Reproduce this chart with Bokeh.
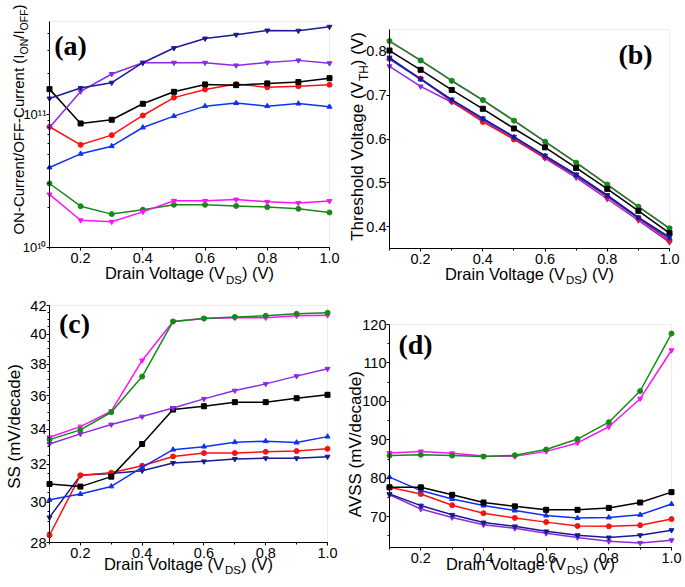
import math
from bokeh.plotting import figure
from bokeh.models import FixedTicker, PrintfTickFormatter, Label, Range1d, BoxAnnotation
from bokeh.layouts import column, row
from bokeh.embed import file_html
from bokeh.resources import INLINE

VDS = [0.1, 0.2, 0.3, 0.4, 0.5, 0.6, 0.7, 0.8, 0.9, 1.0]
X_TICKS = [0.2, 0.4, 0.6, 0.8, 1.0]

# (a) ON/OFF current ratio
A_NAVY = [1.31e11, 1.57e11, 1.72e11, 2.43e11, 3.13e11, 3.69e11, 3.94e11, 4.24e11, 4.22e11, 4.52e11]
A_VIOLET = [7.94e10, 1.48e11, 2.0e11, 2.43e11, 2.43e11, 2.43e11, 2.32e11, 2.44e11, 2.53e11, 2.41e11]
A_BLACK = [1.54e11, 8.51e10, 9.07e10, 1.196e11, 1.47e11, 1.67e11, 1.65e11, 1.70e11, 1.74e11, 1.86e11]
A_RED = [8.04e10, 5.89e10, 6.96e10, 9.77e10, 1.33e11, 1.53e11, 1.68e11, 1.59e11, 1.62e11, 1.66e11]
A_BLUE = [3.98e10, 5.04e10, 5.75e10, 7.94e10, 9.66e10, 1.148e11, 1.21e11, 1.148e11, 1.2e11, 1.135e11]
A_GREEN = [3.02e10, 2.04e10, 1.78e10, 1.92e10, 2.09e10, 2.09e10, 2.05e10, 2.01e10, 1.95e10, 1.83e10]
A_MAGENTA = [2.50e10, 1.60e10, 1.56e10, 1.85e10, 2.24e10, 2.24e10, 2.29e10, 2.20e10, 2.16e10, 2.23e10]
A_YLIM = (1e10, 4.95e11)
A_TICKS = [1e10, 1e11]
A_LABELS = ["10\u00b9\u2070", "10\u00b9\u00b9"]

# (b) threshold voltage
B_GREEN = [0.8235, 0.7795, 0.733, 0.689, 0.642, 0.594, 0.546, 0.496, 0.4455, 0.396]
B_MAGENTA = [0.8235, 0.7795, 0.733, 0.689, 0.642, 0.594, 0.546, 0.496, 0.4455, 0.396]
B_BLACK = [0.802, 0.758, 0.712, 0.669, 0.624, 0.581, 0.534, 0.486, 0.436, 0.385]
B_NAVY = [0.786, 0.737, 0.690, 0.647, 0.605, 0.562, 0.519, 0.472, 0.421, 0.376]
B_BLUE = [0.783, 0.736, 0.689, 0.646, 0.604, 0.561, 0.517, 0.470, 0.420, 0.373]
B_RED = [0.783, 0.738, 0.686, 0.639, 0.599, 0.558, 0.516, 0.468, 0.419, 0.368]
B_VIOLET = [0.766, 0.720, 0.684, 0.643, 0.600, 0.556, 0.512, 0.463, 0.414, 0.364]
B_YLIM = (0.35, 0.85)
B_TICKS = [0.4, 0.5, 0.6, 0.7, 0.8]

# (c) subthreshold swing
C_GREEN = [33.39, 33.95, 34.99, 37.19, 40.87, 41.08, 41.18, 41.27, 41.41, 41.48]
C_MAGENTA = [33.52, 34.14, 35.05, 38.23, 40.87, 41.08, 41.13, 41.13, 41.27, 41.30]
C_VIOLET = [33.14, 33.72, 34.26, 34.73, 35.25, 35.80, 36.31, 36.73, 37.22, 37.69]
C_BLACK = [30.95, 30.81, 31.34, 33.14, 35.15, 35.35, 35.60, 35.60, 35.84, 36.05]
C_BLUE = [30.12, 30.42, 30.82, 31.84, 32.82, 32.99, 33.24, 33.30, 33.22, 33.56]
C_RED = [28.35, 31.41, 31.55, 31.93, 32.44, 32.63, 32.63, 32.70, 32.74, 32.87]
C_NAVY = [29.23, 31.41, 31.51, 31.66, 32.08, 32.17, 32.30, 32.34, 32.34, 32.43]
C_YLIM = (28, 42)
C_TICKS = [28, 30, 32, 34, 36, 38, 40, 42]

# (d) average subthreshold swing
D_GREEN = [85.9, 86.1, 85.9, 85.65, 86.0, 87.5, 90.2, 94.6, 102.7, 117.65]
D_MAGENTA = [86.6, 87.0, 86.5, 85.8, 85.7, 87.0, 89.2, 93.4, 100.7, 113.3]
D_BLACK = [77.65, 77.65, 75.7, 73.7, 72.7, 71.8, 71.8, 72.3, 73.7, 76.4]
D_BLUE = [80.3, 76.8, 74.6, 72.9, 71.6, 70.3, 69.65, 69.8, 70.5, 73.3]
D_RED = [77.65, 75.9, 73.0, 70.9, 69.7, 68.6, 67.6, 67.5, 67.8, 69.4]
D_NAVY = [75.9, 72.9, 70.5, 68.5, 67.5, 66.2, 65.2, 64.6, 65.2, 66.5]
D_VIOLET = [75.7, 72.0, 69.8, 67.9, 67.0, 65.7, 64.6, 63.6, 63.2, 63.9]
D_YLIM = (62, 120)
D_TICKS = [70, 80, 90, 100, 110, 120]

COL = {"black": "#000000", "red": "#ff1010", "blue": "#1030f5", "navy": "#1a1a96",
       "green": "#158a15", "magenta": "#ff10ff", "violet": "#8a2be2"}
MARK = {"black": "square", "red": "circle", "blue": "triangle", "navy": "inverted_triangle",
        "green": "circle", "magenta": "inverted_triangle", "violet": "inverted_triangle"}

FONT = "Liberation Sans"
W = {' ': 278, '(': 333, ')': 333, '-': 333, '/': 278, '.': 278,
     'A': 667, 'C': 722, 'D': 722, 'F': 611, 'H': 722, 'I': 278, 'N': 722, 'O': 778,
     'S': 667, 'T': 611, 'V': 667,
     'a': 556, 'c': 500, 'd': 556, 'e': 556, 'g': 556, 'h': 556, 'i': 222, 'l': 222,
     'm': 833, 'n': 556, 'o': 556, 'r': 333, 's': 500, 't': 278, 'u': 556}
SUB = 0.7


def text_w(t, size):
    return sum(W.get(c, 556) for c in t) / 1000.0 * size


def add_title(p, parts, x, y, size, vertical=False):
    """x, y: screen position of the text centre (along the text) and its mid-line."""
    total = sum(text_w(t, size * (SUB if s else 1)) for t, s in parts)
    pos = (y if vertical else x) - total / 2
    for t, s in parts:
        fs = size * (SUB if s else 1)
        shift = 0.384 * size if s else 0
        if vertical:
            lx, ly = x + shift, pos
        else:
            lx, ly = pos, y - shift
        p.add_layout(Label(x=lx, y=ly, x_units="screen", y_units="screen", text=t,
                           text_font=FONT, text_font_size=f"{fs:.1f}px", text_color="black",
                           text_align="left", text_baseline="middle",
                           angle=90 if vertical else 0, angle_units="deg"))
        pos += text_w(t, fs)


def make_fig(cw, ch, box, ylim, ylog=False):
    L, R, T, B = box
    x0, x1 = 0.1, 1.0
    kx = (x1 - x0) / (R - L)
    xr = Range1d(x0 - L * kx, x1 + (cw - R) * kx)
    f = math.log10 if ylog else (lambda v: v)
    g = (lambda v: 10 ** v) if ylog else (lambda v: v)
    ky = (f(ylim[1]) - f(ylim[0])) / (B - T)
    yr = Range1d(g(f(ylim[0]) - (ch - B) * ky), g(f(ylim[1]) + T * ky))
    p = figure(width=cw, height=ch, x_range=xr, y_range=yr,
               y_axis_type="log" if ylog else "linear",
               output_backend="svg", toolbar_location=None,
               min_border=0, min_border_left=0, min_border_right=0,
               min_border_top=0, min_border_bottom=0)
    p.grid.visible = False
    p.outline_line_color = None
    p.background_fill_color = "white"
    p.border_fill_color = "white"
    p.add_layout(BoxAnnotation(left=x0, right=x1, bottom=ylim[0], top=ylim[1],
                               fill_alpha=0, line_color="#c4c4c4", line_width=1, level="underlay"))
    for ax in (p.xaxis[0], p.yaxis[0]):
        ax.axis_line_color = "black"
        ax.axis_line_width = 1
        ax.major_tick_line_color = "black"
        ax.minor_tick_line_color = "black"
        ax.major_tick_out = 3
        ax.major_tick_in = 0
        ax.minor_tick_out = 2
        ax.minor_tick_in = 0
        ax.major_label_text_font = FONT
        ax.major_label_text_font_size = "14.5px"
        ax.major_label_text_color = "black"
    p.xaxis.major_label_standoff = 2
    p.yaxis.major_label_standoff = 0
    p.xaxis.fixed_location = ylim[0]
    p.yaxis.fixed_location = x0
    p.xaxis.bounds = (x0, x1)
    p.yaxis.bounds = ylim
    p.xaxis.ticker = FixedTicker(ticks=X_TICKS, minor_ticks=VDS)
    p.xaxis.formatter = PrintfTickFormatter(format="%.1f")
    return p


def draw(p, series):
    for name, ys in series:
        p.line(VDS, ys, line_color=COL[name], line_width=1.5)
        p.scatter(VDS, ys, marker=MARK[name], size=5, fill_color=COL[name], line_color=COL[name])


def panel_label(p, text, x, y):
    p.add_layout(Label(x=x, y=y, x_units="screen", y_units="screen", text=text,
                       text_font="Liberation Serif", text_font_style="bold", text_font_size="28px",
                       text_color="black", text_align="center", text_baseline="middle"))


XT = [("Drain Voltage (V", False), ("DS", True), (") (V)", False)]

# (a)
pa = make_fig(340, 290, (49, 329, 21, 247), A_YLIM, ylog=True)
minor_a = [k * 1e10 for k in range(2, 10)] + [k * 1e11 for k in range(2, 5)]
pa.yaxis.ticker = FixedTicker(ticks=A_TICKS, minor_ticks=minor_a)
pa.yaxis.major_label_overrides = {t: l for t, l in zip(A_TICKS, A_LABELS)}
pa.yaxis.major_label_text_font_size = "13px"
draw(pa, [("green", A_GREEN), ("magenta", A_MAGENTA), ("blue", A_BLUE), ("red", A_RED),
          ("black", A_BLACK), ("violet", A_VIOLET), ("navy", A_NAVY)])
add_title(pa, XT, 189, 17.3, 16.5)
add_title(pa, [("ON-Current/OFF-Current (I", False), ("ON", True), ("/I", False), ("OFF", True), (")", False)],
          17.5, 171, 15, vertical=True)
panel_label(pa, "(a)", 70, 245)

# (b)
pb = make_fig(345, 290, (49, 329, 29, 248), B_YLIM)
pb.yaxis.ticker = FixedTicker(ticks=B_TICKS, minor_ticks=[])
pb.yaxis.formatter = PrintfTickFormatter(format="%.1f")
draw(pb, [("magenta", B_MAGENTA), ("green", B_GREEN), ("black", B_BLACK), ("violet", B_VIOLET),
          ("red", B_RED), ("blue", B_BLUE), ("navy", B_NAVY)])
add_title(pb, XT, 189, 17, 16.5)
add_title(pb, [("Threshold Voltage (V", False), ("TH", True), (") (V)", False)], 16.5, 154, 17, vertical=True)
panel_label(pb, "(b)", 295, 236)

# (c)
pc = make_fig(340, 297, (49, 327, 15, 252), C_YLIM, ylog=True)
pc.yaxis.ticker = FixedTicker(ticks=C_TICKS, minor_ticks=[v / 2 for v in range(56, 85)])
pc.yaxis.major_label_overrides = {t: str(t) for t in C_TICKS}
draw(pc, [("navy", C_NAVY), ("red", C_RED), ("blue", C_BLUE), ("black", C_BLACK),
          ("violet", C_VIOLET), ("magenta", C_MAGENTA), ("green", C_GREEN)])
add_title(pc, XT, 188, 24, 16.5)
add_title(pc, [("SS (mV/decade)", False)], 14, 161, 17, vertical=True)
panel_label(pc, "(c)", 74, 264)

# (d)
pd = make_fig(345, 297, (49, 331, 34, 257), D_YLIM)
pd.yaxis.ticker = FixedTicker(ticks=D_TICKS, minor_ticks=[65, 75, 85, 95, 105, 115])
draw(pd, [("violet", D_VIOLET), ("navy", D_NAVY), ("red", D_RED), ("blue", D_BLUE),
          ("black", D_BLACK), ("magenta", D_MAGENTA), ("green", D_GREEN)])
add_title(pd, XT, 190, 24, 16.5)
add_title(pd, [("AVSS (mV/decade)", False)], 15, 144, 17, vertical=True)
panel_label(pd, "(d)", 75, 243)

layout = column(row(pa, pb), row(pc, pd))
open("out.html", "w").write(file_html(layout, INLINE))
